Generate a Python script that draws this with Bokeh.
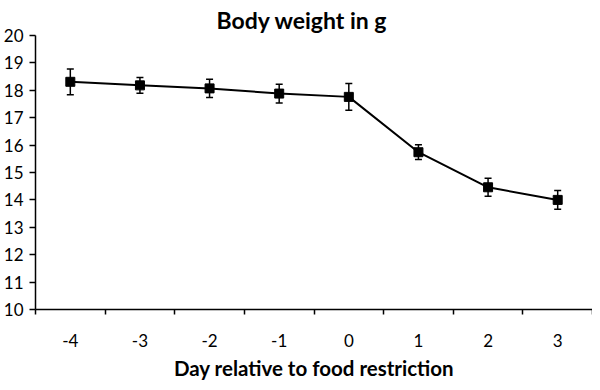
from bokeh.plotting import figure
from bokeh.models import (Range1d, FixedTicker, ColumnDataSource, Whisker, TeeHead)
from bokeh.embed import file_html
from bokeh.resources import INLINE

# Data
days = [-4, -3, -2, -1, 0, 1, 2, 3]
day_labels = ["-4", "-3", "-2", "-1", "0", "1", "2", "3"]
weight = [18.31, 18.18, 18.07, 17.88, 17.76, 15.74, 14.46, 14.00]
err = [0.47, 0.29, 0.33, 0.34, 0.49, 0.27, 0.33, 0.34]
y_ticks = [10, 11, 12, 13, 14, 15, 16, 17, 18, 19, 20]
title_text = "Body weight in g"
x_title = "Day relative to food restriction"

FONT = "Lato"
W, H = 592, 382

src = ColumnDataSource(dict(
    x=days, y=weight,
    lo=[w - e for w, e in zip(weight, err)],
    hi=[w + e for w, e in zip(weight, err)],
))

p = figure(width=W, height=H, output_backend="svg", toolbar_location=None,
           title=title_text,
           x_range=Range1d(days[0] - 0.5, days[-1] + 0.5),
           y_range=Range1d(y_ticks[0], y_ticks[-1]),
           min_border_left=32, min_border_right=0, min_border_top=35,
           min_border_bottom=69)
p.outline_line_color = None
p.grid.visible = False
p.background_fill_color = "white"

p.title.align = "left"
p.title.offset = 181
p.title.vertical_align = "top"
p.title.standoff = 0
p.title.text_font = FONT
p.title.text_font_size = "23px"
p.title.text_font_style = "bold"
p.title.text_color = "black"

# x axis: labels at centres, ticks at category boundaries
xa = p.xaxis[0]
xa.ticker = FixedTicker(ticks=days, minor_ticks=[d - 0.5 for d in days] + [days[-1] + 0.5])
xa.major_label_overrides = {d: s for d, s in zip(days, day_labels)}
xa.major_tick_line_color = None
xa.major_tick_in = 0
xa.major_tick_out = 0
xa.minor_tick_in = 0
xa.minor_tick_out = 5
xa.minor_tick_line_color = "black"
xa.minor_tick_line_width = 1.5
xa.axis_line_color = "black"
xa.axis_line_width = 1.5
xa.major_label_standoff = 19
xa.major_label_text_font = FONT
xa.major_label_text_font_size = "17px"
xa.major_label_text_color = "black"
xa.axis_label = x_title
xa.axis_label_text_font = FONT
xa.axis_label_text_font_size = "20.5px"
xa.axis_label_text_font_style = "bold"
xa.axis_label_text_color = "black"
xa.axis_label_standoff = 6

ya = p.yaxis[0]
ya.ticker = FixedTicker(ticks=y_ticks, minor_ticks=[])
ya.major_tick_in = 0
ya.major_tick_out = 6
ya.major_tick_line_width = 1.5
ya.axis_line_width = 1.5
ya.major_label_standoff = 6
ya.major_label_text_font = FONT
ya.major_label_text_font_size = "17px"
ya.major_label_text_color = "black"

p.line("x", "y", source=src, line_color="black", line_width=2)
p.add_layout(Whisker(source=src, base="x", upper="hi", lower="lo",
                     line_color="black", line_width=1.5,
                     upper_head=TeeHead(size=7, line_color="black", line_width=1.5),
                     lower_head=TeeHead(size=7, line_color="black", line_width=1.5)))
p.scatter("x", "y", source=src, marker="square", size=9, fill_color="black",
          line_color="black")

open("out.html", "w").write(file_html(p, INLINE))
